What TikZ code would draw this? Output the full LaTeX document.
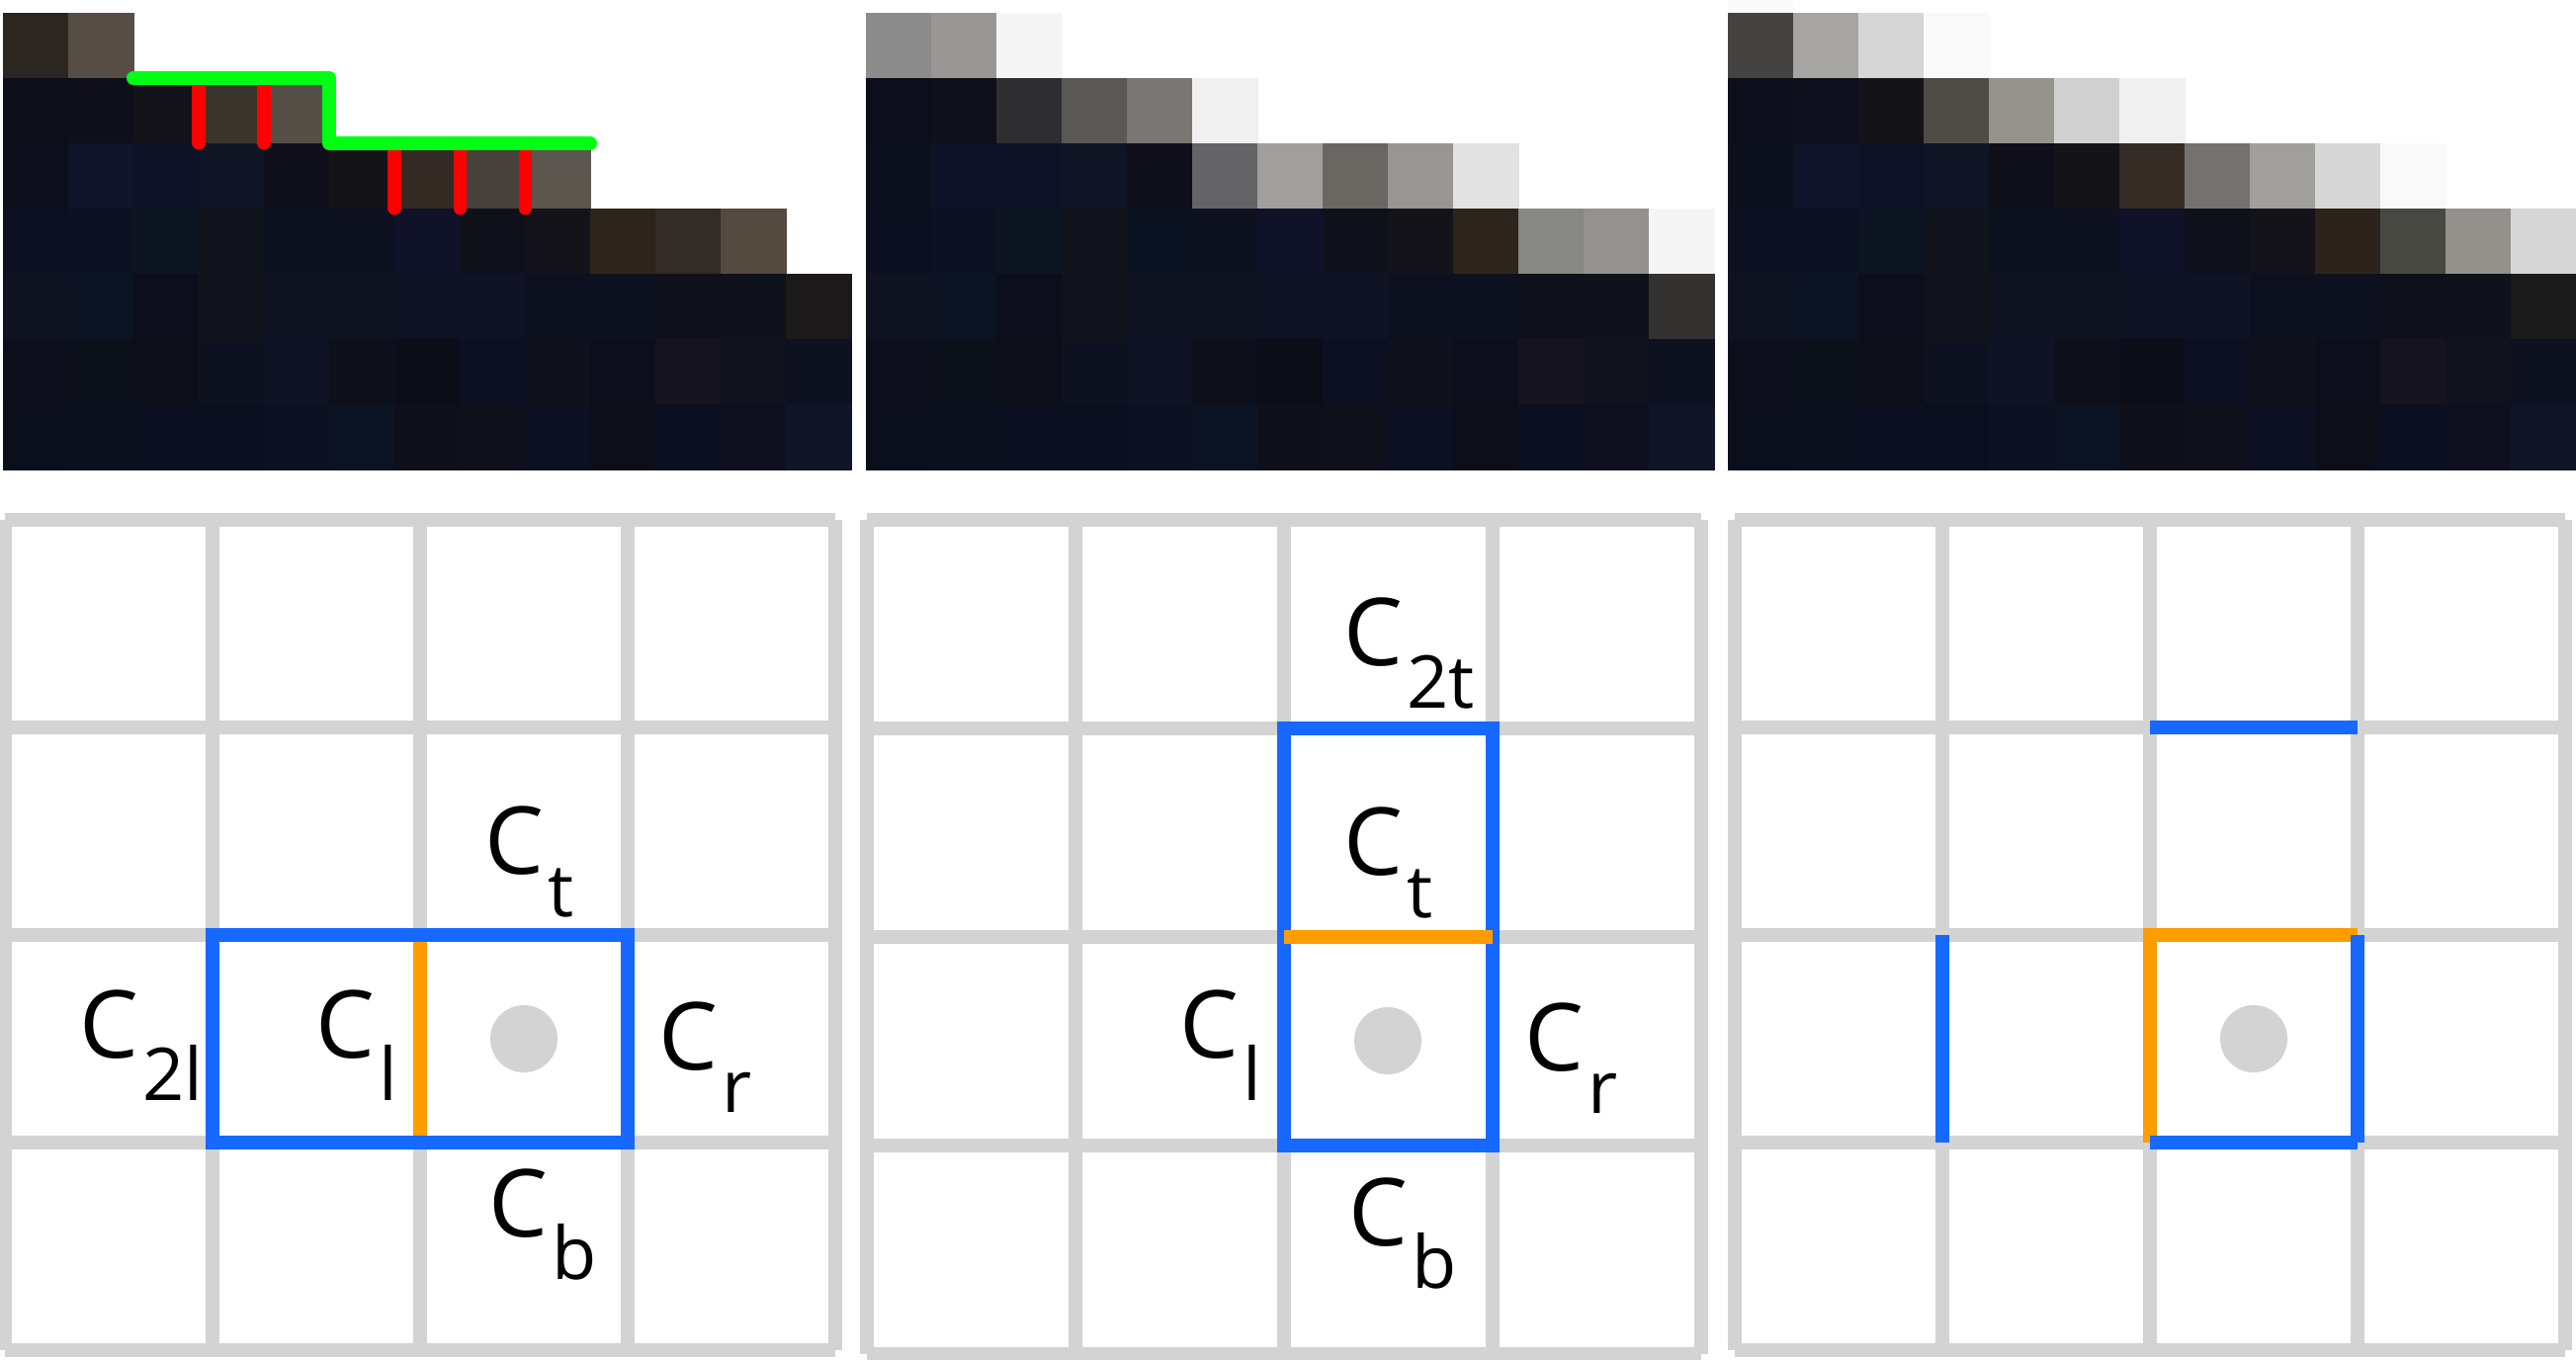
\documentclass[tikz,border=0pt]{standalone}
\usepackage{fontspec}
\setmainfont{Open Sans}
\definecolor{gridgray}{HTML}{D3D3D3}
\definecolor{eblue}{HTML}{1668FF}
\definecolor{eorange}{HTML}{FF9C00}
\definecolor{egreen}{HTML}{00FF14}
\definecolor{ered}{HTML}{FF0000}
\newcommand\pixrow[3]{%
  \foreach \cc [count=\ii from 0] in {#3} {%
    \edef\tmpdef{\noexpand\definecolor{pxc}{HTML}{\cc}}\tmpdef
    \fill[pxc] ({#1+\ii*66},{13+#2*66}) rectangle ++(66.8,66.8);
  }}
\newcommand\pgrid[3]{%
  \foreach \k in {0,...,4} {%
    \draw[gridline] ({#1+\k*#2},526) -- ({#1+\k*#2},{526+4*#3});
    \draw[gridline] (#1,{526+\k*#3}) -- ({#1+4*#2},{526+\k*#3});
  }}
\newcommand\clab[1]{C\kern1pt\raisebox{-12.5pt}{\fontsize{21}{21}\selectfont #1}}
\tikzset{
  gridline/.style={draw=gridgray, line width=4pt, line cap=square},
  blueedge/.style={draw=eblue, line width=3.9pt},
  orangeedge/.style={draw=eorange, line width=3.9pt},
  centredot/.style={fill=gridgray},
  lab/.style={inner sep=0pt, anchor=base west, font=\fontsize{27}{27}\selectfont},
  greenedge/.style={draw=egreen, line width=4pt, line cap=round, line join=round},
  rededge/.style={draw=ered, line width=3.7pt, line cap=round},
}
\begin{document}
\begin{tikzpicture}[x=0.01cm, y=-0.01cm]
\useasboundingbox (0,0) rectangle (2606,1376);
\fill[white] (0,0) rectangle (2606,1376);
% ---------- panel 1 ----------
\pixrow{3}{0}{2B2620,564E45}
\pixrow{3}{1}{0C0E1A,0E0F1A,131218,3A342D,564F48}
\pixrow{3}{2}{0C0F1B,0F142A,0D1226,0F1524,0E0F1B,141318,342A24,48403A,5C564F}
\pixrow{3}{3}{0D1020,0C1222,0D1422,11131D,0D1221,0E1120,10122A,0F111A,131319,2D241B,322B26,544A3F}
\pixrow{3}{4}{0F1220,0C1322,0C0F1B,10121C,0F1220,0F1220,0F1222,101326,0D101F,0D1120,0E101B,0F111B,1B1919}
\pixrow{3}{5}{0C0F1B,0C101B,0C0E1A,0E1220,0F1325,0D101B,0B0D18,0D1022,0F111C,0C0F1B,15141F,11121E,0E1120}
\pixrow{3}{6}{0B0F1C,0C0F1E,0C0F1F,0B0E1E,0E1121,0C1322,0E0F1B,0F101B,0D1022,0C0E1A,0C0F22,0E101F,111528}
% ---------- panel 2 ----------
\pixrow{876}{0}{8C8C8C,9A9694,F5F5F5}
\pixrow{876}{1}{0C0E1B,0E101C,2E2E30,5A5855,7A7673,F0F0F0}
\pixrow{876}{2}{0C101C,0F132A,0D1226,0F1524,0E0F1B,646466,A09F9D,6A6662,979694,E2E2E2}
\pixrow{876}{3}{0C0F1F,0C1222,0D1422,11131D,0B1221,0E1120,10122A,0F121B,131319,2D241B,878784,95918E,F5F5F5}
\pixrow{876}{4}{0F1220,0C1322,0C0F1B,10121C,0F1220,0F1220,0F1222,101326,0D101F,0D1120,0E101B,0F111B,343230}
\pixrow{876}{5}{0C0F1B,0C101B,0C0E1A,0E1220,0F1325,0D101B,0B0D18,0D1022,0F111C,0C0F1B,15141F,11121E,0E1120}
\pixrow{876}{6}{0B0F1C,0C0F1E,0C0F1F,0B0E1E,0E1121,0C1322,0E0F1B,0F101B,0D1022,0C0E1A,0C0F22,0E101F,111528}
% ---------- panel 3 ----------
\definecolor{faint}{HTML}{FAFAFA}
\fill[faint] (1748,0) rectangle (1814,13);
\pixrow{1748}{0}{444342,A6A5A2,D6D6D7,F9F9F9}
\pixrow{1748}{1}{0C0E1B,0E101D,141318,4F4C47,94938E,D0D0D0,F0F0F0}
\pixrow{1748}{2}{0C101C,0F142A,0D1226,0F1524,0E0F1B,141317,352B25,74726F,A19F9B,D6D6D6,F9F9F9}
\pixrow{1748}{3}{0D1020,0C1222,0D1422,11131D,0D1221,0E1120,10122A,0F111A,131319,2C241A,484843,94908C,D6D6D6}
\pixrow{1748}{4}{0F1220,0C1322,0C0F1B,10121C,0F1220,0F1220,0F1222,101326,0D101F,0D1120,0E101B,0F111B,1B1A1A}
\pixrow{1748}{5}{0C0F1B,0C101B,0C0E1A,0E1220,0F1325,0D101B,0B0D18,0D1022,0F111C,0C0F1B,15141F,11121E,0E1120}
\pixrow{1748}{6}{0B0F1C,0C0F1E,0C0F1F,0B0E1E,0E1121,0C1322,0E0F1B,0F101B,0D1022,0C0E1A,0C0F22,0E101F,111528}
% red and green edges on panel 1
\draw[rededge] (201,79) -- (201,145);
\draw[rededge] (267,79) -- (267,145);
\draw[rededge] (399,145) -- (399,211);
\draw[rededge] (465,145) -- (465,211);
\draw[rededge] (531,145) -- (531,211);
\draw[greenedge] (135,79) -- (333,79) -- (333,145) -- (597,145);
% ---------- grid 1 ----------
\pgrid{5}{210}{210}
\fill[centredot] (530,1051) circle[radius=0.34cm];
\draw[orangeedge] (425,946) -- (425,1156);
\draw[blueedge] (215,946) rectangle (635,1156);
\node[lab] (g1t) at (490,884) {\clab{t}};
\node[lab] (g1ll) at (80,1070) {\clab{2l}};
\node[lab] (g1l) at (319,1070) {\clab{l}};
\node[lab] (g1r) at (666,1082) {\clab{r}};
\node[lab] (g1b) at (494,1251) {\clab{b}};
% ---------- grid 2 ----------
\pgrid{877}{211}{211}
\fill[centredot] (1404,1053) circle[radius=0.34cm];
\draw[blueedge] (1299,737) rectangle (1510,1159);
\draw[orangeedge] (1299,948) -- (1510,948);
\node[lab] (g2tt) at (1359,673) {\clab{2t}};
\node[lab] (g2t) at (1359,885) {\clab{t}};
\node[lab] (g2l) at (1193,1070) {\clab{l}};
\node[lab] (g2r) at (1542,1083) {\clab{r}};
\node[lab] (g2b) at (1364,1260) {\clab{b}};
% ---------- grid 3 ----------
\pgrid{1755}{210}{210}
\fill[centredot] (2280,1051) circle[radius=0.34cm];
\draw[blueedge] (2175,736) -- (2385,736);
\draw[blueedge] (1965,946) -- (1965,1156);
\draw[orangeedge] (2175,1156) -- (2175,946) -- (2385,946);
\draw[blueedge] (2385,946) -- (2385,1156);
\draw[blueedge] (2175,1156) -- (2385,1156);
\end{tikzpicture}
\end{document}
